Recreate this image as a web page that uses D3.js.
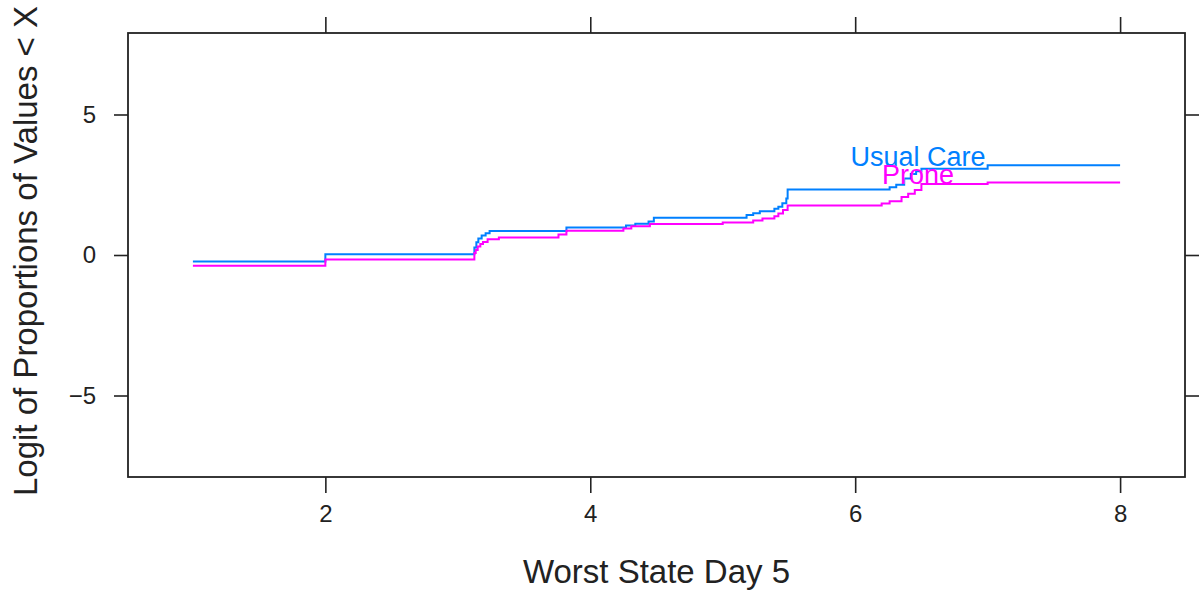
<!DOCTYPE html>
<html>
<head>
<meta charset="utf-8">
<script src="https://cdn.jsdelivr.net/npm/d3@7"></script>
<style>
  html, body { margin: 0; padding: 0; background: #fff; }
  svg { display: block; }
  text { font-family: "Liberation Sans", Arial, sans-serif; }
</style>
</head>
<body>
<svg id="chart" width="1199" height="594"></svg>
<script>
// Empirical CDF steps on the logit scale: [worst state, logit of proportion < x]
const usualCare = [
  [1, -0.23], [2, 0.03], [3.125, 0.27], [3.14, 0.45], [3.155, 0.59], [3.18, 0.69],
  [3.21, 0.77], [3.24, 0.85], [3.82, 0.98], [4.27, 1.05], [4.34, 1.11], [4.44, 1.19],
  [4.48, 1.33], [5.18, 1.42], [5.23, 1.49], [5.28, 1.56], [5.39, 1.65], [5.42, 1.72],
  [5.45, 1.84], [5.48, 2.01], [5.49, 2.33], [6.26, 2.41], [6.31, 2.5], [6.37, 2.72],
  [6.42, 2.88], [6.46, 2.98], [6.5, 3.07], [7.0, 3.19], [8.0, 3.19]
];
const prone = [
  [1, -0.38], [2, -0.16], [3.125, 0.07], [3.135, 0.18], [3.15, 0.3], [3.17, 0.39],
  [3.19, 0.46], [3.225, 0.56], [3.31, 0.62], [3.76, 0.73], [3.82, 0.86], [4.25, 0.94],
  [4.31, 1.02], [4.45, 1.1], [5.0, 1.16], [5.23, 1.23], [5.3, 1.3], [5.39, 1.38],
  [5.42, 1.48], [5.455, 1.6], [5.49, 1.76], [6.2, 1.83], [6.26, 1.91], [6.35, 2.06],
  [6.4, 2.18], [6.45, 2.31], [6.5, 2.53], [7.0, 2.58], [8.0, 2.58]
];

const groupNames = ["Usual Care", "Prone"];
const groupColors = ["#0080ff", "#ff00ff"];
const groupData = [usualCare, prone];
// Curve label anchor points (x, logit at baseline)
const labelX = [6.475, 6.475];
const labelY = [3.16, 2.52];

const xTicks = [2, 4, 6, 8];
const yTicks = [-5, 0, 5];

const svg = d3.select("#chart");
const m = { left: 128, right: 14, top: 33, bottom: 117 };
const W = 1199, H = 594;
const iw = W - m.left - m.right, ih = H - m.top - m.bottom;

const x = d3.scaleLinear().domain([0.51, 8.49]).range([0, iw]);
const y = d3.scaleLinear().domain([-7.9, 7.9]).range([ih, 0]);

const g = svg.append("g").attr("transform", `translate(${m.left},${m.top})`);

// Axes: ticks on all four sides, labels on bottom and left only
function styleAxis(sel) {
  sel.select(".domain").remove();
  sel.selectAll(".tick line").attr("stroke", "#222").attr("stroke-width", 1.6);
  sel.selectAll(".tick text").attr("fill", "#222")
    .style("font-size", "24px");
}
g.append("g").attr("transform", `translate(0,${ih})`)
  .call(d3.axisBottom(x).tickValues(xTicks).tickSize(16).tickPadding(12).tickFormat(d3.format("d")))
  .call(styleAxis);
g.append("g")
  .call(d3.axisTop(x).tickValues(xTicks).tickSize(16).tickFormat(""))
  .call(styleAxis);
g.append("g")
  .call(d3.axisLeft(y).tickValues(yTicks).tickSize(14).tickPadding(18).tickFormat(d => d < 0 ? "\u2212" + Math.abs(d) : d))
  .call(styleAxis);
g.append("g").attr("transform", `translate(${iw},0)`)
  .call(d3.axisRight(y).tickValues(yTicks).tickSize(14).tickFormat(""))
  .call(styleAxis);

// Panel frame
g.append("rect")
  .attr("x", 0).attr("y", 0).attr("width", iw).attr("height", ih)
  .attr("fill", "none").attr("stroke", "#222").attr("stroke-width", 1.8);

// Step curves
const line = d3.line()
  .x(d => x(d[0]))
  .y(d => y(d[1]))
  .curve(d3.curveStepAfter);

groupData.forEach((data, i) => {
  g.append("path")
    .datum(data)
    .attr("d", line)
    .attr("fill", "none")
    .attr("stroke", groupColors[i])
    .attr("stroke-width", 2);
});

// Curve labels
groupNames.forEach((name, i) => {
  g.append("text")
    .attr("x", x(labelX[i]))
    .attr("y", y(labelY[i]))
    .attr("text-anchor", "middle")
    .attr("fill", groupColors[i])
    .style("font-size", "27px")
    .text(name);
});

// Axis titles
svg.append("text")
  .attr("x", m.left + x(4.5))
  .attr("y", 583)
  .attr("text-anchor", "middle")
  .attr("fill", "#222")
  .style("font-size", "33px")
  .text("Worst State Day 5");

svg.append("text")
  .attr("transform", `translate(37,${251}) rotate(-90)`)
  .attr("text-anchor", "middle")
  .attr("fill", "#222")
  .style("font-size", "33px")
  .text("Logit of Proportions of Values < X");
</script>
</body>
</html>
